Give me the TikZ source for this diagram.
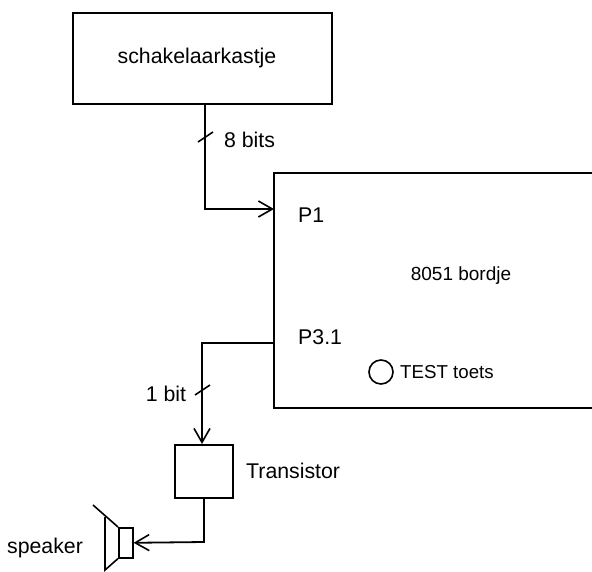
\documentclass[tikz,border=0pt]{standalone}
\usepackage{fontspec}
\setmainfont{Liberation Sans}
\usetikzlibrary{arrows.meta}
\tikzset{
  box/.style={draw=black,line width=1.8pt,rectangle,inner sep=0pt,anchor=north west},
  wire/.style={draw=black,line width=1.8pt},
  arrowwire/.style={wire,-{Straight Barb[length=14pt,width=16pt,line width=1.6pt]}},
  tick/.style={draw=black,line width=1.6pt},
  lbl/.style={inner sep=0pt,font=\fontsize{21.3pt}{24pt}\selectfont},
  lblsmall/.style={inner sep=0pt,font=\fontsize{19pt}{22pt}\selectfont}
}
\begin{document}
\begin{tikzpicture}[x=1pt,y=-1pt]
\useasboundingbox (0,0) rectangle (592,571);
\node[box,minimum width=259pt,minimum height=91pt] (kast) at (72,12) {};
\node[lbl] (kastl) at (197,58) {schakelaarkastje};
\coordinate (tr) at (600,173);
\coordinate (tl) at (274,173);
\coordinate (bl) at (274,408);
\coordinate (brr) at (600,408);
\draw[wire,line cap=rect] (tr) -- (tl) -- (bl) -- (brr);
\coordinate (bord) at (274,209);
\coordinate (p3) at (274,343);
\coordinate (k8) at (205,103);
\coordinate (k8b) at (205,209);
\coordinate (p3b) at (202,343);
\coordinate (t1) at (202,444);
\coordinate (t2) at (204,497);
\coordinate (t2b) at (204,542);
\node[lbl,anchor=west] (p1l) at (298,215) {P1};
\node[lbl,anchor=west] (p3l) at (298,337) {P3.1};
\node[lblsmall] (bordl) at (461,276) {8051 bordje};
\node[draw=black,line width=1.6pt,circle,minimum size=24pt,inner sep=0pt] (test) at (381,372) {};
\node[inner sep=0pt,font=\fontsize{18.7pt}{22pt}\selectfont,anchor=west] (testl) at (400,372.5) {TEST toets};
\node[box,minimum width=58pt,minimum height=53pt] (trans) at (174,444) {};
\node[lbl,anchor=west] (transl) at (246,471) {Transistor};
\node[lbl] (bits8) at (249.5,140) {8 bits};
\node[lbl] (bit1) at (166,394) {1 bit};
\node[lbl] (spkl) at (45,548) {speaker};
\node[draw=black,line width=1.6pt,minimum width=14pt,minimum height=30pt,inner sep=0pt,anchor=north west] (spk) at (118,527) {};
\coordinate (c1) at (105,517);
\coordinate (c2) at (105,570);
\coordinate (c0) at (93,505);
\draw[tick] (c0) -- (spk.north west);
\draw[tick] (c1) -- (c2) -- (spk.south west);
\draw[arrowwire] (k8) -- (k8b) -- (bord);
\draw[arrowwire] (p3) -- (p3b) -- (t1);
\draw[arrowwire] (t2) -- (t2b) -- (spk.east);
\draw[tick] (198,142) -- (213,132);
\draw[tick] (195,395) -- (210,385);
\end{tikzpicture}
\end{document}
